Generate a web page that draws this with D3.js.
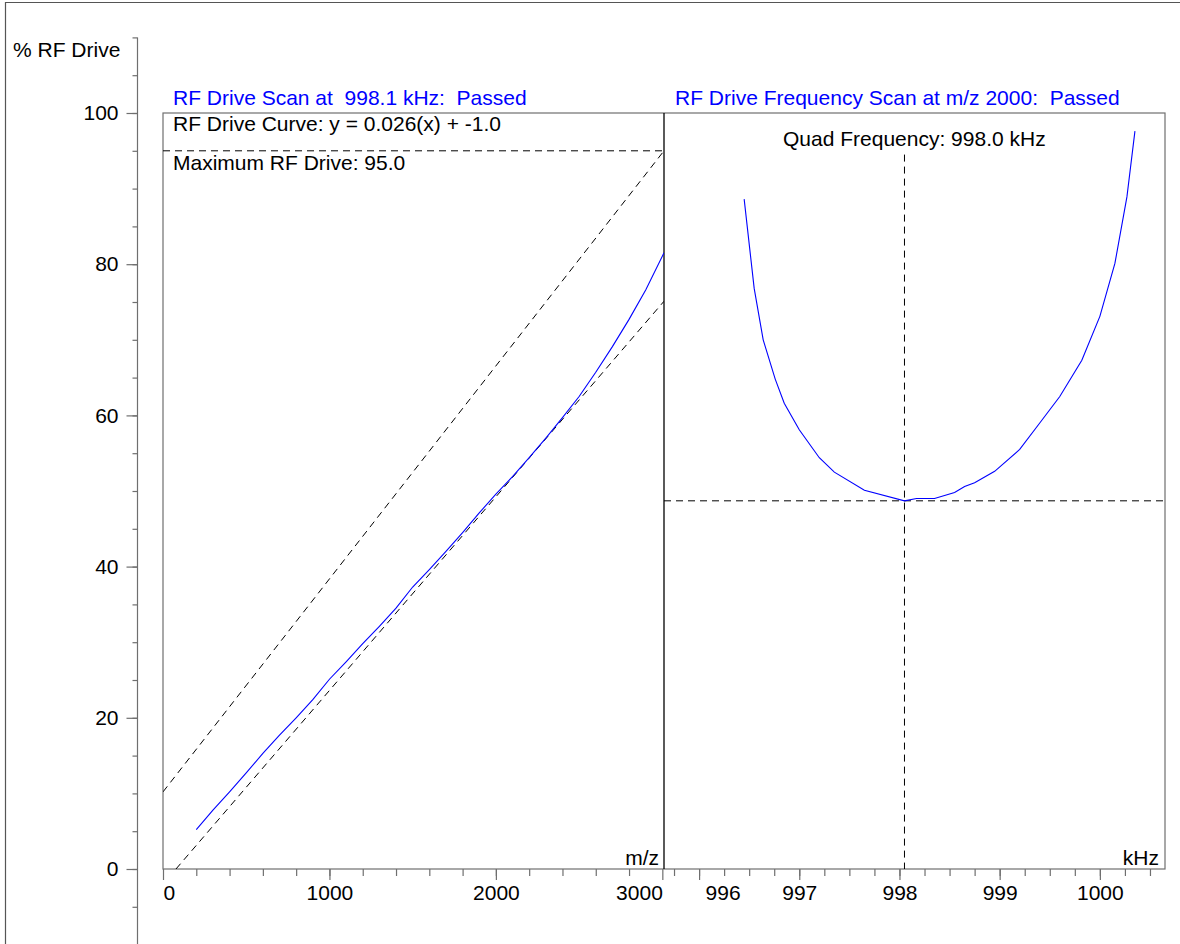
<!DOCTYPE html>
<html>
<head>
<meta charset="utf-8">
<script src="https://cdn.jsdelivr.net/npm/d3@7/dist/d3.min.js"></script>
<style>
    body { margin: 0; background: #fff; }
    svg text { font-family: "Liberation Sans", Arial, sans-serif; font-size: 21px; white-space: pre; }
</style>
</head>
<body>
<svg id="chart" width="1180" height="944"></svg>
<script>
// RF drive scan at fixed frequency (m/z vs % RF drive)
var scanMz = [200, 300, 400, 500, 600, 700, 800, 900, 1000, 1100, 1200, 1300, 1400, 1500,
    1600, 1700, 1800, 1900, 2000, 2100, 2200, 2300, 2400, 2500, 2600, 2700, 2800, 2900, 3010];
var scanDrive = [5.2, 7.8, 10.2, 12.7, 15.3, 17.7, 20.0, 22.4, 25.1, 27.4, 29.8, 32.1, 34.5, 37.3,
    39.6, 42.0, 44.5, 47.1, 49.6, 51.9, 54.4, 57.0, 59.7, 62.5, 65.7, 69.1, 72.7, 76.6, 81.5];

// frequency scan at m/z 2000
var freqKhz = [996.45, 996.55, 996.64, 996.76, 996.85, 997.0, 997.2, 997.35, 997.65, 998.05,
    998.17, 998.35, 998.55, 998.65, 998.75, 998.95, 999.2, 999.4, 999.6, 999.82, 1000.0,
    1000.15, 1000.27, 1000.35];
var freqDrive = [88.6, 76.8, 70.0, 64.8, 61.6, 58.1, 54.4, 52.5, 50.1, 48.7,
    49.0, 49.0, 49.8, 50.6, 51.1, 52.6, 55.5, 59.0, 62.5, 67.3, 73.1,
    80.1, 88.9, 97.6];

// limit lines of the drive curve
var upperLimitMz = [0, 3010];
var upperLimitDrive = [10.2, 95.0];
var lowerLimitMz = [78, 3010];
var lowerLimitDrive = [0, 75.1];

var maxDrive = 95.0;
var quadFreq = 998.05;
var quadLineTop = 94.5;
var minFreqDrive = 48.7;

var yTicks = [0, 20, 40, 60, 80, 100];
var yMinorTicks = d3.range(-10, 111, 5);
var mzTicks = [0, 1000, 2000, 3000];
var mzMinorTicks = d3.range(200, 3000, 200);
var khzTicks = [996, 997, 998, 999, 1000];
var khzMinorTicks = d3.range(995.75, 1000.6, 0.25);

var gray = "#6f6f6f";
var blue = "#0000ff";

var svg = d3.select("#chart");

var yScale = d3.scaleLinear().domain([0, 100]).range([869, 113]);
var xMz = d3.scaleLinear().domain([0, 3010]).range([163, 664]);
var xKhz = d3.scaleLinear().domain([995.65, 1000.65]).range([664, 1165]);

// outer border
svg.append("path")
    .attr("d", "M5.5,944V2.5H1180")
    .attr("fill", "none")
    .attr("stroke", "#555")
    .attr("stroke-width", 1.2);

// clip for left panel
svg.append("clipPath").attr("id", "leftClip")
    .append("rect")
    .attr("x", 163).attr("y", 113)
    .attr("width", 501).attr("height", 756);

// y axis
var yAxisX = 137.5;
svg.append("line")
    .attr("x1", yAxisX).attr("x2", yAxisX)
    .attr("y1", yScale(110)).attr("y2", 944)
    .attr("stroke", gray).attr("stroke-width", 1.2);

function styleAxis(g) {
    g.select(".domain").remove();
    g.selectAll(".tick line").attr("stroke", gray).attr("stroke-width", 1.2);
    g.selectAll(".tick text").attr("fill", "#000");
    g.attr("font-size", 21).attr("font-family", "Liberation Sans, Arial, sans-serif");
}

svg.append("g")
    .attr("transform", `translate(${yAxisX},0)`)
    .call(d3.axisLeft(yScale).tickValues(yMinorTicks).tickSize(5).tickFormat(""))
    .call(styleAxis);

svg.append("g")
    .attr("transform", `translate(${yAxisX},0)`)
    .call(d3.axisLeft(yScale).tickValues(yTicks).tickSize(11).tickPadding(8).tickFormat(d3.format("d")))
    .call(styleAxis);

svg.append("text")
    .attr("x", 13).attr("y", 57)
    .text("% RF Drive");

// bottom axes
svg.append("g")
    .attr("transform", "translate(0,869)")
    .call(d3.axisBottom(xMz).tickValues(mzMinorTicks).tickSize(7).tickFormat(""))
    .call(styleAxis);

var mzAxis = svg.append("g")
    .attr("transform", "translate(0,869)")
    .call(d3.axisBottom(xMz).tickValues(mzTicks).tickSize(11).tickPadding(5).tickFormat(d3.format("d")))
    .call(styleAxis);
mzAxis.selectAll(".tick text")
    .attr("text-anchor", (d) => d === 0 ? "start" : (d === 3000 ? "end" : "middle"));

svg.append("g")
    .attr("transform", "translate(0,869)")
    .call(d3.axisBottom(xKhz).tickValues(khzMinorTicks).tickSize(7).tickFormat(""))
    .call(styleAxis);

var khzAxis = svg.append("g")
    .attr("transform", "translate(0,869)")
    .call(d3.axisBottom(xKhz).tickValues(khzTicks).tickSize(11).tickPadding(5).tickFormat(d3.format("d")))
    .call(styleAxis);
// first label pushed away from the divider
khzAxis.selectAll(".tick text")
    .filter((d) => d === 996)
    .attr("text-anchor", "start")
    .attr("x", 6);

// plot frame
svg.append("rect")
    .attr("x", 163).attr("y", 113)
    .attr("width", 1002).attr("height", 756)
    .attr("fill", "none")
    .attr("stroke", gray).attr("stroke-width", 1.2);

svg.append("line")
    .attr("x1", 664).attr("x2", 664)
    .attr("y1", 113).attr("y2", 869)
    .attr("stroke", "#000").attr("stroke-width", 1.3);

// titles
svg.append("text")
    .attr("x", 173).attr("y", 105)
    .attr("fill", blue)
    .text("RF Drive Scan at  998.1 kHz:  Passed");

svg.append("text")
    .attr("x", 675).attr("y", 105)
    .attr("fill", blue)
    .text("RF Drive Frequency Scan at m/z 2000:  Passed");

svg.append("text")
    .attr("x", 173).attr("y", 131)
    .text("RF Drive Curve: y = 0.026(x) + -1.0");

svg.append("text")
    .attr("x", 173).attr("y", 170)
    .text("Maximum RF Drive: 95.0");

svg.append("text")
    .attr("x", 783).attr("y", 146)
    .text("Quad Frequency: 998.0 kHz");

svg.append("text")
    .attr("x", 659).attr("y", 865)
    .attr("text-anchor", "end")
    .text("m/z");

svg.append("text")
    .attr("x", 1159).attr("y", 865)
    .attr("text-anchor", "end")
    .text("kHz");

// left panel: limits and curve
var left = svg.append("g").attr("clip-path", "url(#leftClip)");

var mzLine = d3.line()
    .x((d) => xMz(d[0]))
    .y((d) => yScale(d[1]));

var dash = "7,5";

left.append("line")
    .attr("x1", xMz(0)).attr("x2", xMz(3010))
    .attr("y1", yScale(maxDrive)).attr("y2", yScale(maxDrive))
    .attr("stroke", "#000").attr("stroke-dasharray", dash);

left.append("path")
    .attr("d", mzLine(d3.zip(upperLimitMz, upperLimitDrive)))
    .attr("fill", "none")
    .attr("stroke", "#000").attr("stroke-dasharray", dash);

left.append("path")
    .attr("d", mzLine(d3.zip(lowerLimitMz, lowerLimitDrive)))
    .attr("fill", "none")
    .attr("stroke", "#000").attr("stroke-dasharray", dash);

left.append("path")
    .attr("d", mzLine(d3.zip(scanMz, scanDrive)))
    .attr("fill", "none")
    .attr("stroke", blue).attr("stroke-width", 1.1);

// right panel: frequency scan
var khzLine = d3.line()
    .x((d) => xKhz(d[0]))
    .y((d) => yScale(d[1]));

svg.append("line")
    .attr("x1", xKhz(quadFreq)).attr("x2", xKhz(quadFreq))
    .attr("y1", yScale(quadLineTop)).attr("y2", yScale(0))
    .attr("stroke", "#000").attr("stroke-dasharray", dash);

svg.append("line")
    .attr("x1", 664).attr("x2", 1165)
    .attr("y1", yScale(minFreqDrive)).attr("y2", yScale(minFreqDrive))
    .attr("stroke", "#000").attr("stroke-dasharray", dash);

svg.append("path")
    .attr("d", khzLine(d3.zip(freqKhz, freqDrive)))
    .attr("fill", "none")
    .attr("stroke", blue).attr("stroke-width", 1.1);
</script>
</body>
</html>
